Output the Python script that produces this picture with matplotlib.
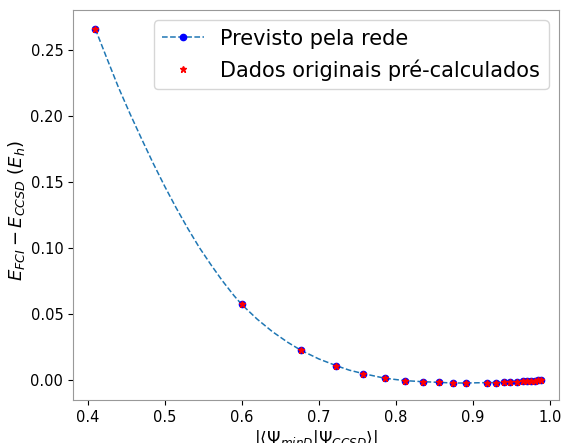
from matplotlib import pyplot as plt
import numpy as np

# overlap |<psi_minD|psi_CCSD>| and E_FCI - E_CCSD
overlap = [0.410, 0.600, 0.677, 0.723, 0.758, 0.786, 0.812, 0.835, 0.856,
           0.874, 0.891, 0.919, 0.930, 0.941, 0.949, 0.957, 0.965, 0.971,
           0.976, 0.981, 0.985, 0.988]
energy = [0.2663, 0.0573, 0.0225, 0.0108, 0.0048, 0.0013, -0.0005, -0.0013,
          -0.0018, -0.0023, -0.0023, -0.0020, -0.0020, -0.0018, -0.0015,
          -0.0013, -0.0010, -0.0008, -0.0006, -0.0005, -0.0004, -0.0003]

# extra points of the network curve between the sparse data points
curve_x = [0.425, 0.440, 0.455, 0.470, 0.485, 0.500, 0.515, 0.530, 0.545,
           0.560, 0.575, 0.590, 0.620, 0.640, 0.660, 0.700, 0.740]
curve_y = [0.2440, 0.2220, 0.2020, 0.1830, 0.1645, 0.1470, 0.1305, 0.1150,
           0.1005, 0.0875, 0.0752, 0.0640, 0.0462, 0.0366, 0.0285, 0.0160,
           0.0074]

pred_x = np.array(overlap + curve_x)
pred_y = np.array(energy + curve_y)
order = np.argsort(pred_x)
pred_x, pred_y = pred_x[order], pred_y[order]
marks = list(np.where(np.isin(pred_x, overlap))[0])

fig = plt.figure(figsize=(5.63, 4.43), dpi=100)
ax = fig.add_axes([73 / 563, 1 - 400 / 443, 486 / 563, 390 / 443])

ax.plot(pred_x, pred_y, "--", color="#1f77b4", lw=1.1,
        marker="o", markevery=marks, ms=4.5, mfc="blue", mec="blue",
        label="Previsto pela rede")
ax.plot(overlap, energy, "*", color="red", ms=5,
        label="Dados originais pré-calculados")

ax.set_xlim(0.381, 1.012)
ax.set_ylim(-0.0152, 0.2807)

ax.set_xlabel(r"$|\langle\Psi_{minD}|\Psi_{CCSD}\rangle|$", fontsize=12.3, labelpad=2)
ax.set_ylabel(r"$E_{FCI} - E_{CCSD}$ $(E_h)$", fontsize=13)
ax.yaxis.set_label_coords(-0.095, 0.485)
ax.tick_params(labelsize=10.5)
for s in ax.spines.values():
    s.set_color("0.6")

ax.legend(fontsize=15, loc="upper right")

plt.savefig("out.png", dpi=100)
